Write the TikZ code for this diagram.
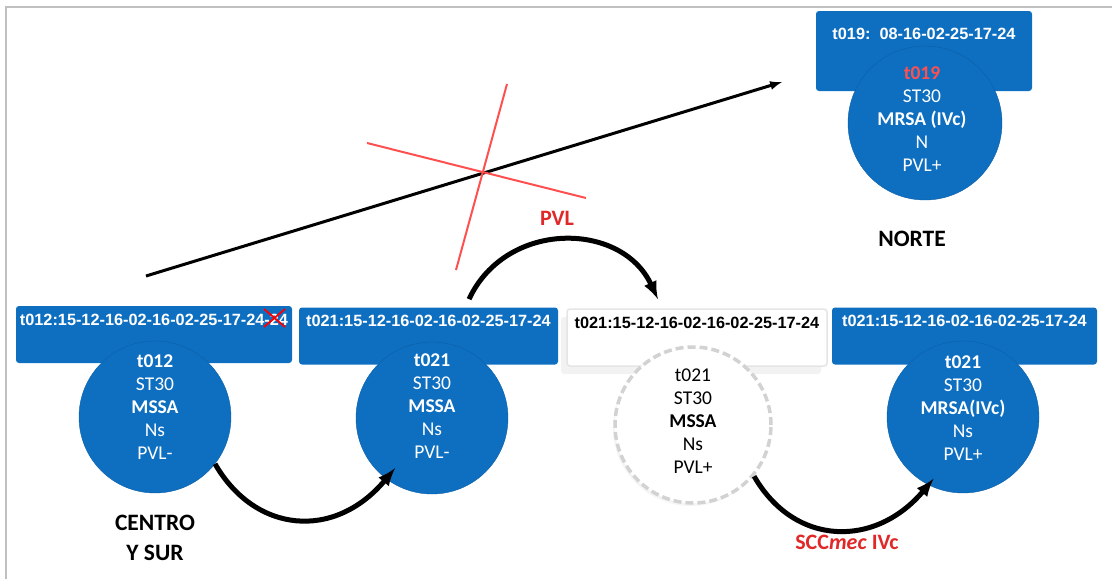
\documentclass[tikz,border=0pt]{standalone}
\usepackage{fontspec}
\setmainfont{Carlito}
\newfontfamily\arialfont{Liberation Sans}
\usepackage{xcolor}
\usepackage{tikz}
\usetikzlibrary{shapes.geometric, arrows, positioning, shadows}

\definecolor{azul}{RGB}{14,111,193}
\definecolor{rojo}{RGB}{255,80,80}
\definecolor{rojoosc}{RGB}{225,40,40}
\definecolor{borde}{RGB}{192,192,192}

\begin{document}
\begin{tikzpicture}[
    x=1pt, y=-1pt,
    cabecera/.style={rectangle, rounded corners=3pt, fill=azul, text=white, font=\arialfont\bfseries\fontsize{16.3}{20}\selectfont, minimum height=57pt, text height=12pt, text depth=31pt, inner ysep=7pt, inner xsep=2pt},
    cepa/.style={circle, fill=azul, draw=azul!85!black, minimum size=152pt, inner sep=0pt},
    lineas/.style={align=center, text=white, font=\fontsize{19.5}{23}\selectfont},
    region/.style={align=center, font=\bfseries\fontsize{23.5}{30}\selectfont},
    etiqueta/.style={text=rojoosc, font=\bfseries\fontsize{22}{26}\selectfont},
    arrow/.style={-latex, line width=3pt},
    curva/.style={-latex, line width=5pt, looseness=1.2},
    cruz/.style={rojo, line width=2pt}
]
\useasboundingbox (0,0) rectangle (1112,579);

% Frame
\draw[borde, line width=2pt] (6,579) -- (6,7) -- (1112,7);

% Header boxes
\node[cabecera, minimum width=276pt] (b1) at (154,334.5) {t012:15-12-16-02-16-02-25-17-24-24};
\node[cabecera, minimum width=259pt] (b2) at (428.5,336) {t021:15-12-16-02-16-02-25-17-24};
\node[cabecera, minimum width=260pt, fill=white, text=black, draw=gray!20, line width=1.5pt,
      drop shadow={shadow xshift=-6pt, shadow yshift=-8pt, opacity=0.1}] (b3) at (697,337.5) {t021:15-12-16-02-16-02-25-17-24};
\node[cabecera, minimum width=265pt] (b4) at (964.5,336) {t021:15-12-16-02-16-02-25-17-24};
\node[cabecera, minimum width=216pt, minimum height=80pt, text height=21pt, text depth=45pt,
      font=\arialfont\bfseries\fontsize{16.3}{20}\selectfont] (bN) at (924,51) {t019:\ \ 08-16-02-25-17-24};

% Strains
\node[cepa] (c1) at (155,417) {};
\node[cepa] (c2) at (432,418) {};
\node[cepa, minimum size=156pt, fill=white, draw=gray!35, line width=3.5pt, dash pattern=on 8pt off 4pt,
      drop shadow={shadow xshift=-2pt, shadow yshift=-3pt, opacity=0.08}] (c3) at (693,425) {};
\node[cepa] (c4) at (963,417) {};
\node[cepa, minimum size=154pt] (cN) at (925,123) {};

\node[lineas, yshift=10pt] (t1) at (c1) {\textbf{t012}\\ST30\\\textbf{MSSA}\\Ns\\PVL-};
\node[lineas, yshift=12pt] (t2) at (c2) {\textbf{t021}\\ST30\\\textbf{MSSA}\\Ns\\PVL-};
\node[lineas, text=black, yshift=4pt] (t3) at (c3) {t021\\ST30\\\textbf{MSSA}\\Ns\\PVL+};
\node[lineas, yshift=9pt] (t4) at (c4) {\textbf{t021}\\ST30\\\textbf{MRSA(IVc)}\\Ns\\PVL+};
\node[lineas, yshift=4pt, xshift=-3pt] (tN) at (cN) {\textcolor{rojo}{\textbf{t019}}\\ST30\\\textbf{MRSA (IVc)}\\N\\PVL+};

% Regions and labels
\node[region, below=18pt of c1] (centro) {CENTRO\\Y SUR};
\node[region] (norte) at (912,239) {NORTE};
\node[etiqueta] (pvl) at (557,218) {PVL};
\node[etiqueta] (scc) at (847,542) {SCC\textit{mec} IVc};

% Connections
\coordinate (origen) at (146,276);
\coordinate (destino) at (782,82);
\draw[arrow] (origen) -- (destino);

\draw[curva, shorten >=-14pt] (c1.-38) to[out=-60, in=-130] (c2.-127);
\draw[curva, shorten >=-8pt] (c3.-40) to[out=-60, in=-130] (c4.-117);
\draw[curva, looseness=1.25, shorten <=9pt, shorten >=10pt] (b2.38) to[out=65, in=115] (b3.140);

% Crossed out
\draw[cruz] (507,84) -- (456,270);
\draw[cruz] (367,143) -- (586,198);
\draw[red, line width=1.8pt] (264,309) -- (285,327);
\draw[red, line width=1.8pt] (264,327) -- (285,309);

\end{tikzpicture}
\end{document}
